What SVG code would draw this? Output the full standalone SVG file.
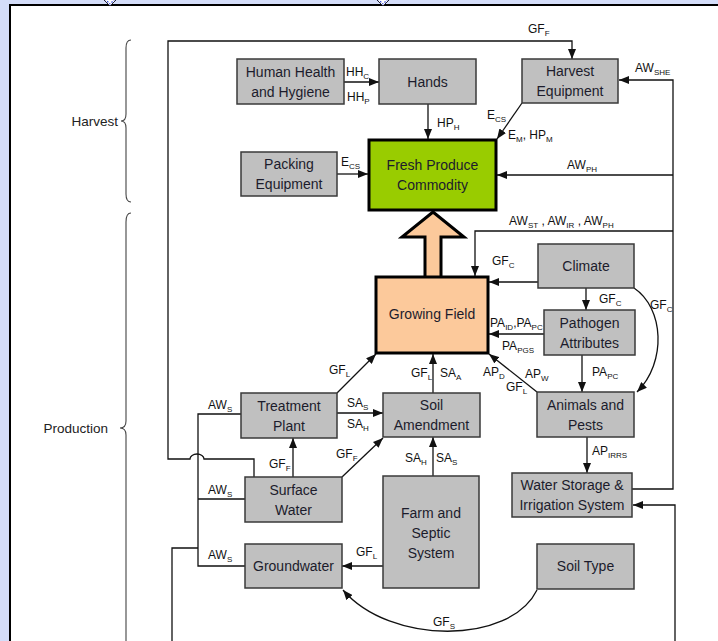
<svg xmlns="http://www.w3.org/2000/svg" width="718" height="641" viewBox="0 0 718 641">
<style>
.n{fill:#c0c0c0;stroke:#3a3a3a;stroke-width:1.5}
.t{font-family:"Liberation Sans",Arial,sans-serif;font-size:14px;fill:#1c1c2c;text-anchor:middle}
.l{font-family:"Liberation Sans Narrow","Liberation Sans",Arial,sans-serif;font-size:12px;fill:#111}
.s{font-size:8px}
.c{fill:none;stroke:#111;stroke-width:1.3}
.b{fill:none;stroke:#444;stroke-width:1.1}
.side{font-family:"Liberation Sans",Arial,sans-serif;font-size:13.5px;fill:#222;text-anchor:end}
</style>
<defs>
<marker id="a" markerUnits="userSpaceOnUse" markerWidth="11" markerHeight="8" refX="10" refY="4" orient="auto">
<path d="M0,0 L10,4 L0,8 z" fill="#111"/>
</marker>
</defs>
<rect x="0" y="0" width="718" height="641" fill="#d4ddf9"/>
<rect x="10" y="5" width="720" height="650" fill="#fff" stroke="#000" stroke-width="2"/>
<g id="handles">
<polygon points="101,-3 110,6 119,-3 110,-12" fill="#fff" stroke="#223" stroke-width="1"/>
<polygon points="103,-3 110,4 117,-3" fill="none" stroke="#2b3fd6" stroke-width="1.2" stroke-dasharray="1.5 1.5"/>
<polygon points="374,-3 383,6 392,-3 383,-12" fill="#fff" stroke="#223" stroke-width="1"/>
<polygon points="376,-3 383,4 390,-3" fill="none" stroke="#2b3fd6" stroke-width="1.2" stroke-dasharray="1.5 1.5"/>
</g>
<g id="braces">
<path class="b" d="M131,40 Q126,40 126,48 L126,114 Q126,121 121,121 Q126,121 126,128 L126,194 Q126,202 131,202"/>
<text class="side" x="118" y="126">Harvest</text>
<path class="b" d="M131,213 Q126,213 126,222 L126,421 Q126,428 120,428 Q126,428 126,435 L126,650"/>
<text class="side" x="108" y="433">Production</text>
</g>
<g id="connectors">
<path class="c" d="M254,477 L254,459 L204,459 A7,5 0 0 0 190,459 L168,459 L168,41 L572,41 L572,59" marker-end="url(#a)"/>
<path class="c" d="M241,414 L198,414 L198,566 L245,566 M198,499 L245,499 M198,548 L172,548 L172,645"/>
<path class="c" d="M632,489 L673,489 L673,80 L619,80" marker-end="url(#a)"/>
<path class="c" d="M673,175 L497,175" marker-end="url(#a)"/>
<path class="c" d="M673,231 L475,231 L475,276" marker-end="url(#a)"/>
<path class="c" d="M675,645 L675,505 L633,505" marker-end="url(#a)"/>
<path class="c" d="M344,82 L379,82" marker-end="url(#a)"/>
<path class="c" d="M428,104 L428,139" marker-end="url(#a)"/>
<path class="c" d="M522,103 L497,139" marker-end="url(#a)"/>
<path class="c" d="M337,174 L368,174" marker-end="url(#a)"/>
<path class="c" d="M538,282 L489,282" marker-end="url(#a)"/>
<path class="c" d="M586,288 L586,310" marker-end="url(#a)"/>
<path class="c" d="M634,288 C664,308 667,362 637,392" marker-end="url(#a)"/>
<path class="c" d="M544,334 L489,334" marker-end="url(#a)"/>
<path class="c" d="M582,355 L582,392" marker-end="url(#a)"/>
<path class="c" d="M537,392 L489,354" marker-end="url(#a)"/>
<path class="c" d="M587,437 L587,473" marker-end="url(#a)"/>
<path class="c" d="M433,393 L433,354" marker-end="url(#a)"/>
<path class="c" d="M337,393 L376,354" marker-end="url(#a)"/>
<path class="c" d="M337,413 L383,413" marker-end="url(#a)"/>
<path class="c" d="M293,477 L293,438" marker-end="url(#a)"/>
<path class="c" d="M342,477 L383,438" marker-end="url(#a)"/>
<path class="c" d="M433,476 L433,437" marker-end="url(#a)"/>
<path class="c" d="M383,566 L342,566" marker-end="url(#a)"/>
<path class="c" d="M537,590 C510,645 390,645 343,590" marker-end="url(#a)"/>
</g>
<g id="labels">
<text class="l" x="528" y="33">GF<tspan class="s" dy="3">F</tspan></text>
<text class="l" x="346" y="76">HH<tspan class="s" dy="3">C</tspan></text>
<text class="l" x="347" y="101">HH<tspan class="s" dy="3">P</tspan></text>
<text class="l" x="437" y="127">HP<tspan class="s" dy="3">H</tspan></text>
<text class="l" x="635" y="72">AW<tspan class="s" dy="3">SHE</tspan></text>
<text class="l" x="487" y="119">E<tspan class="s" dy="3">CS</tspan></text>
<text class="l" x="508" y="139">E<tspan class="s" dy="3">M</tspan><tspan dy="-3">, HP</tspan><tspan class="s" dy="3">M</tspan></text>
<text class="l" x="341" y="166">E<tspan class="s" dy="3">CS</tspan></text>
<text class="l" x="567" y="169">AW<tspan class="s" dy="3">PH</tspan></text>
<text class="l" x="509" y="225">AW<tspan class="s" dy="3">ST</tspan><tspan dy="-3"> , AW</tspan><tspan class="s" dy="3">IR</tspan><tspan dy="-3"> , AW</tspan><tspan class="s" dy="3">PH</tspan></text>
<text class="l" x="492" y="265">GF<tspan class="s" dy="3">C</tspan></text>
<text class="l" x="599" y="303">GF<tspan class="s" dy="3">C</tspan></text>
<text class="l" x="650" y="309">GF<tspan class="s" dy="3">C</tspan></text>
<text class="l" x="490" y="327">PA<tspan class="s" dy="3">ID</tspan><tspan dy="-3">,PA</tspan><tspan class="s" dy="3">PC</tspan></text>
<text class="l" x="502" y="350">PA<tspan class="s" dy="3">PGS</tspan></text>
<text class="l" x="592" y="376">PA<tspan class="s" dy="3">PC</tspan></text>
<text class="l" x="329" y="374">GF<tspan class="s" dy="3">L</tspan></text>
<text class="l" x="411" y="377">GF<tspan class="s" dy="3">L</tspan></text>
<text class="l" x="440" y="377">SA<tspan class="s" dy="3">A</tspan></text>
<text class="l" x="483" y="376">AP<tspan class="s" dy="3">D</tspan></text>
<text class="l" x="525" y="378">AP<tspan class="s" dy="3">W</tspan></text>
<text class="l" x="506" y="391">GF<tspan class="s" dy="3">L</tspan></text>
<text class="l" x="208" y="409">AW<tspan class="s" dy="3">S</tspan></text>
<text class="l" x="347" y="407">SA<tspan class="s" dy="3">S</tspan></text>
<text class="l" x="347" y="428">SA<tspan class="s" dy="3">H</tspan></text>
<text class="l" x="592" y="455">AP<tspan class="s" dy="3">IRRS</tspan></text>
<text class="l" x="269" y="468">GF<tspan class="s" dy="3">F</tspan></text>
<text class="l" x="336" y="458">GF<tspan class="s" dy="3">F</tspan></text>
<text class="l" x="405" y="462">SA<tspan class="s" dy="3">H</tspan></text>
<text class="l" x="436" y="462">SA<tspan class="s" dy="3">S</tspan></text>
<text class="l" x="208" y="494">AW<tspan class="s" dy="3">S</tspan></text>
<text class="l" x="208" y="559">AW<tspan class="s" dy="3">S</tspan></text>
<text class="l" x="356" y="556">GF<tspan class="s" dy="3">L</tspan></text>
<text class="l" x="433" y="626">GF<tspan class="s" dy="3">S</tspan></text>
</g>
<g id="bigarrow">
<polygon points="433,212 464,237 441,237 441,278 425,278 425,237 402,237" fill="#fcc99b" stroke="#000" stroke-width="3" stroke-linejoin="miter"/>
</g>
<g id="human-health"><rect class="n" x="237" y="59" width="107" height="45"/><text class="t" x="290.5" y="77">Human Health</text><text class="t" x="290.5" y="97">and Hygiene</text></g>
<g id="hands"><rect class="n" x="379" y="59" width="97" height="45"/><text class="t" x="427.5" y="86.5">Hands</text></g>
<g id="harvest-equipment"><rect class="n" x="522" y="59" width="96" height="44"/><text class="t" x="570" y="76">Harvest</text><text class="t" x="570" y="96">Equipment</text></g>
<g id="packing-equipment"><rect class="n" x="241" y="152" width="96" height="44"/><text class="t" x="289" y="169">Packing</text><text class="t" x="289" y="189">Equipment</text></g>
<g id="fresh-produce"><rect x="369" y="140" width="127" height="70" fill="#99cc00" stroke="#000" stroke-width="3"/><text class="t" x="432.5" y="170">Fresh Produce</text><text class="t" x="432.5" y="190">Commodity</text></g>
<g id="growing-field"><rect x="376" y="277" width="112" height="76" fill="#fcc99b" stroke="#000" stroke-width="3"/><text class="t" x="432" y="319">Growing Field</text></g>
<g id="climate"><rect class="n" x="538" y="244" width="96" height="44"/><text class="t" x="586" y="271">Climate</text></g>
<g id="pathogen"><rect class="n" x="544" y="310" width="91" height="45"/><text class="t" x="589.5" y="328">Pathogen</text><text class="t" x="589.5" y="348">Attributes</text></g>
<g id="animals"><rect class="n" x="537" y="392" width="97" height="45"/><text class="t" x="585.5" y="410">Animals and</text><text class="t" x="585.5" y="430">Pests</text></g>
<g id="water-storage"><rect class="n" x="512" y="473" width="120" height="44"/><text class="t" x="572" y="490">Water Storage &amp;</text><text class="t" x="572" y="510">Irrigation System</text></g>
<g id="treatment-plant"><rect class="n" x="241" y="393" width="96" height="45"/><text class="t" x="289" y="411">Treatment</text><text class="t" x="289" y="431">Plant</text></g>
<g id="soil-amendment"><rect class="n" x="383" y="393" width="97" height="44"/><text class="t" x="431.5" y="410">Soil</text><text class="t" x="431.5" y="430">Amendment</text></g>
<g id="surface-water"><rect class="n" x="245" y="477" width="97" height="45"/><text class="t" x="293.5" y="495">Surface</text><text class="t" x="293.5" y="515">Water</text></g>
<g id="farm-septic"><rect class="n" x="383" y="476" width="96" height="112"/><text class="t" x="431" y="518">Farm and</text><text class="t" x="431" y="538">Septic</text><text class="t" x="431" y="558">System</text></g>
<g id="groundwater"><rect class="n" x="245" y="544" width="97" height="44"/><text class="t" x="293.5" y="571">Groundwater</text></g>
<g id="soil-type"><rect class="n" x="537" y="544" width="97" height="45"/><text class="t" x="585.5" y="571">Soil Type</text></g>
</svg>
